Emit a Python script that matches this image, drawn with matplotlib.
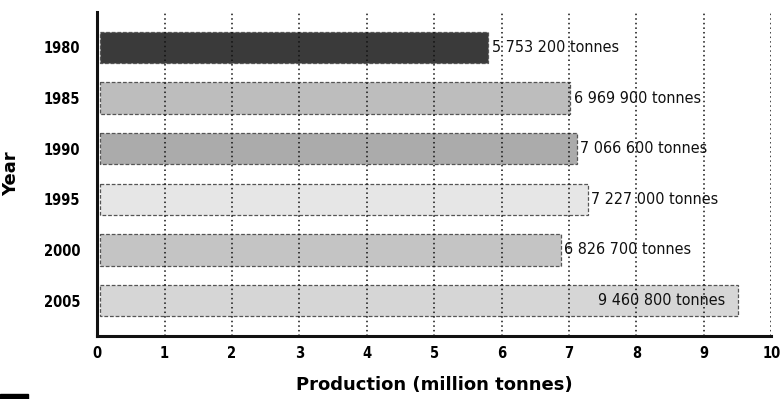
import matplotlib
matplotlib.use("Agg")
import matplotlib.pyplot as plt
from matplotlib.patches import Rectangle

years = ["1980", "1985", "1990", "1995", "2000", "2005"]
tonnes = [5753200, 6969900, 7066600, 7227000, 6826700, 9460800]
shades = ["#3a3a3a", "#bdbdbd", "#ababab", "#e6e6e6", "#c4c4c4", "#d6d6d6"]
x_ticks = list(range(0, 11))

plt.rcParams["font.family"] = ["DejaVu Sans"]

fig = plt.figure(figsize=(7.83, 3.99), dpi=100)
ax = fig.add_axes([0.124, 0.158, 0.861, 0.812])

values = [t / 1e6 for t in tonnes]
ypos = list(range(len(years)))
ax.barh(ypos, values, left=0.05, height=0.62, color=shades,
        edgecolor="#555555", linewidth=0.9, linestyle=(0, (3, 1.5)), zorder=1)

# value labels; the last one sits inside its bar
for i, (v, t) in enumerate(zip(values, tonnes)):
    txt = f"{t:,} tonnes".replace(",", " ")
    if i == len(values) - 1:
        ax.text(v - 0.15, i, txt, ha="right", va="center", fontsize=11.5,
                fontstretch="condensed", color="#111", zorder=3)
    else:
        ax.text(v + 0.1, i, txt, ha="left", va="center", fontsize=11.5,
                fontstretch="condensed", color="#111", zorder=3)

ax.set_xlim(0, 10)
ax.set_ylim(len(years) - 0.3, -0.7)
ax.set_xticks(x_ticks)
ax.set_xticklabels([str(x) for x in x_ticks], fontsize=10.5, fontweight="bold",
                   fontstretch="condensed")
ax.set_yticks(ypos)
ax.set_yticklabels(years, fontsize=10.5, fontweight="bold", fontstretch="condensed")
ax.tick_params(length=0)
ax.tick_params(axis="x", pad=7)
ax.tick_params(axis="y", pad=12)

for x in x_ticks[1:]:
    ax.axvline(x, color="#111", lw=1.1, ls=(0, (1, 2)), zorder=2)

for s in ["top", "right"]:
    ax.spines[s].set_visible(False)
for s in ["left", "bottom"]:
    ax.spines[s].set_linewidth(2.2)
    ax.spines[s].set_color("#111")

ax.set_xlabel("Production (million tonnes)", fontsize=13, fontweight="bold", labelpad=11)
ax.set_ylabel("Year", fontsize=13, fontweight="bold")
ax.yaxis.set_label_coords(-0.114, 0.5)

fig.patches.append(Rectangle((0, 0), 28 / 783, 5 / 399, transform=fig.transFigure,
                             color="black"))

fig.savefig("out.png", dpi=100)
